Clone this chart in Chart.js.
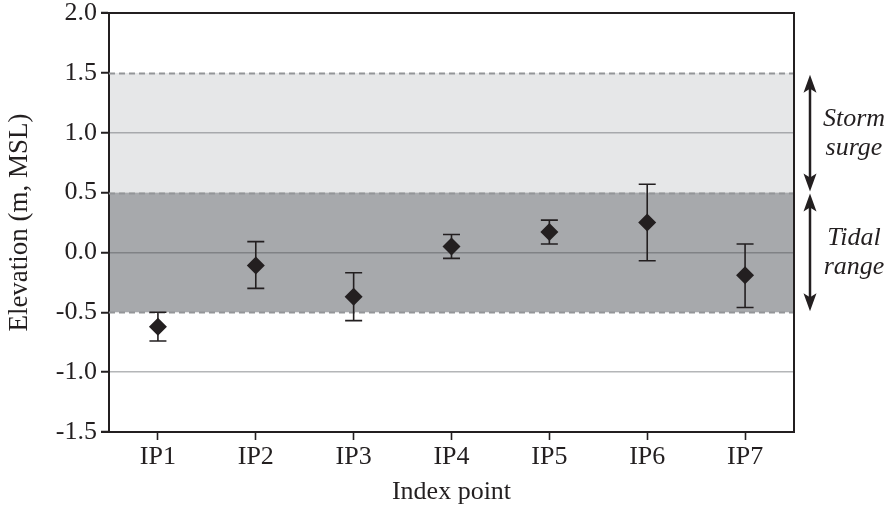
<!DOCTYPE html>
<html>
<head>
<meta charset="utf-8">
<script src="https://cdn.jsdelivr.net/npm/chart.js@4"></script>
<style>
  html, body { margin: 0; padding: 0; background: #fff; }
  #wrap { width: 888px; height: 510px; }
</style>
</head>
<body>
<div id="wrap"><canvas id="c" width="888" height="510"></canvas></div>
<script>
const categories = ['IP1', 'IP2', 'IP3', 'IP4', 'IP5', 'IP6', 'IP7'];
const elevation = [-0.62, -0.11, -0.37, 0.05, 0.17, 0.25, -0.19];
const errUpper = [-0.50, 0.09, -0.17, 0.15, 0.27, 0.57, 0.07];
const errLower = [-0.74, -0.30, -0.57, -0.05, 0.07, -0.07, -0.46];
const stormSurge = [0.5, 1.5];
const tidalRange = [-0.5, 0.5];
const yTicks = [-1.5, -1.0, -0.5, 0.0, 0.5, 1.0, 1.5, 2.0];
const bandLabels = [['Storm', 'surge'], ['Tidal', 'range']];

const INK = '#231f20';
const FONT = 'Liberation Serif';

const decorPlugin = {
  id: 'decor',
  beforeDraw(chart) {
    const { ctx, chartArea: a, scales: { y } } = chart;
    ctx.save();
    ctx.fillStyle = '#e6e7e8';
    let t = y.getPixelForValue(stormSurge[1]), b = y.getPixelForValue(stormSurge[0]);
    ctx.fillRect(a.left, t, a.right - a.left, b - t);
    ctx.fillStyle = '#a7a9ac';
    t = y.getPixelForValue(tidalRange[1]); b = y.getPixelForValue(tidalRange[0]);
    ctx.fillRect(a.left, t, a.right - a.left, b - t);
    ctx.restore();
  },
  beforeDatasetsDraw(chart) {
    const { ctx, chartArea: a, scales: { x, y } } = chart;
    ctx.save();
    ctx.strokeStyle = '#939598';
    ctx.lineWidth = 2;
    ctx.setLineDash([6, 4]);
    [stormSurge[1], stormSurge[0], tidalRange[0]].forEach(v => {
      const py = Math.round(y.getPixelForValue(v)) + 0.5;
      ctx.beginPath();
      ctx.moveTo(a.left, py);
      ctx.lineTo(a.right, py);
      ctx.stroke();
    });
    ctx.setLineDash([]);
    ctx.strokeStyle = INK;
    ctx.lineWidth = 1.6;
    categories.forEach((c, i) => {
      const px = x.getPixelForValue(i);
      const pu = y.getPixelForValue(errUpper[i]);
      const pl = y.getPixelForValue(errLower[i]);
      ctx.beginPath();
      ctx.moveTo(px, pu); ctx.lineTo(px, pl);
      ctx.moveTo(px - 8.5, pu); ctx.lineTo(px + 8.5, pu);
      ctx.moveTo(px - 8.5, pl); ctx.lineTo(px + 8.5, pl);
      ctx.stroke();
    });
    ctx.restore();
  },
  afterDraw(chart) {
    const { ctx, chartArea: a, scales: { y } } = chart;
    ctx.save();
    ctx.strokeStyle = INK;
    ctx.lineWidth = 2;
    ctx.beginPath();
    ctx.moveTo(a.left - 8, a.top);
    ctx.lineTo(a.right, a.top);
    ctx.lineTo(a.right, a.bottom);
    ctx.stroke();
    ctx.beginPath();
    ctx.moveTo(a.left - 8, a.bottom);
    ctx.lineTo(a.left, a.bottom);
    ctx.stroke();
    const ax = a.right + 16;
    const arrow = (y1, y2) => {
      ctx.strokeStyle = INK;
      ctx.fillStyle = INK;
      ctx.lineWidth = 2.5;
      ctx.beginPath();
      ctx.moveTo(ax, y1 + 10);
      ctx.lineTo(ax, y2 - 10);
      ctx.stroke();
      const head = (py, dir) => {
        ctx.beginPath();
        ctx.moveTo(ax, py);
        ctx.lineTo(ax - 6.5, py + dir * 18);
        ctx.lineTo(ax, py + dir * 14);
        ctx.lineTo(ax + 6.5, py + dir * 18);
        ctx.closePath();
        ctx.fill();
      };
      head(y1, 1);
      head(y2, -1);
    };
    arrow(y.getPixelForValue(stormSurge[1]) + 2, y.getPixelForValue(stormSurge[0]) - 1);
    arrow(y.getPixelForValue(tidalRange[1]) + 1, y.getPixelForValue(tidalRange[0]) - 1);
    ctx.fillStyle = INK;
    ctx.font = 'italic 26px "' + FONT + '"';
    ctx.textAlign = 'center';
    ctx.textBaseline = 'middle';
    const tx = a.right + 60;
    [stormSurge, tidalRange].forEach((band, k) => {
      const cy = y.getPixelForValue((band[0] + band[1]) / 2);
      ctx.fillText(bandLabels[k][0], tx, cy - 14);
      ctx.fillText(bandLabels[k][1], tx, cy + 15);
    });
    ctx.restore();
  }
};

new Chart(document.getElementById('c'), {
  type: 'line',
  data: {
    labels: categories,
    datasets: [{
      label: 'Elevation',
      data: elevation,
      showLine: false,
      pointStyle: 'rectRot',
      pointRadius: 9,
      pointHoverRadius: 9,
      backgroundColor: INK,
      borderColor: INK,
      borderWidth: 0
    }]
  },
  options: {
    responsive: false,
    animation: false,
    events: [],
    layout: { padding: { left: 4, right: 94, top: 13, bottom: 2 } },
    plugins: { legend: { display: false }, tooltip: { enabled: false } },
    scales: {
      x: {
        type: 'category',
        offset: true,
        afterFit: (s) => { s.height = 76; },
        grid: {
          offset: false,
          drawOnChartArea: false,
          tickLength: 8,
          tickColor: INK,
          tickWidth: 1.6,
          color: INK
        },
        border: { color: INK, width: 2 },
        ticks: {
          color: INK,
          padding: 2,
          font: { family: FONT, size: 26 },
          maxRotation: 0
        },
        title: {
          display: true,
          text: 'Index point',
          color: INK,
          font: { family: FONT, size: 26 },
          padding: { top: 2, bottom: 0 }
        }
      },
      y: {
        min: -1.5,
        max: 2.0,
        afterFit: (s) => { s.width = 105; s.paddingTop = 0; s.paddingBottom = 0; },
        afterBuildTicks: (s) => { s.ticks = yTicks.map(v => ({ value: v })); },
        grid: {
          drawOnChartArea: true,
          tickLength: 8,
          tickColor: INK,
          tickWidth: 2,
          lineWidth: 1.5,
          color: (ctx) => {
            const v = ctx.tick ? ctx.tick.value : null;
            if (v === 1.0) return '#a7a9ac';
            if (v === 0.0) return '#808285';
            if (v === -1.0) return '#b4b6b8';
            return 'rgba(0,0,0,0)';
          }
        },
        border: { color: INK, width: 2 },
        ticks: {
          color: INK,
          padding: 4,
          font: { family: FONT, size: 26 },
          callback: (v) => Number(v).toFixed(1)
        },
        title: {
          display: true,
          text: 'Elevation (m, MSL)',
          color: INK,
          font: { family: FONT, size: 27 },
          padding: { top: 0, bottom: 0 }
        }
      }
    }
  },
  plugins: [decorPlugin]
});
</script>
</body>
</html>
